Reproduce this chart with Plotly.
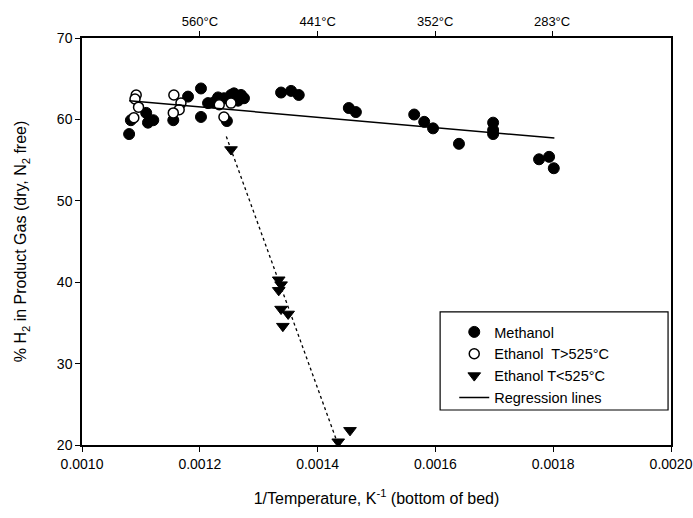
import plotly.graph_objects as go

# ---- data ----
meth_x = [0.001080, 0.001083, 0.001109, 0.001121, 0.001112, 0.001180, 0.001155,
          0.001202, 0.001202, 0.001214, 0.001224, 0.001231, 0.001241, 0.001253,
          0.001258, 0.001265, 0.001270, 0.001275, 0.001246,
          0.001338, 0.001355, 0.001368, 0.001453, 0.001465,
          0.001564, 0.001581, 0.001596, 0.001640, 0.001698, 0.001698, 0.001698,
          0.001776, 0.001793, 0.001801]
meth_y = [58.2, 59.9, 60.8, 59.9, 59.6, 62.8, 59.9,
          63.8, 60.3, 62.0, 62.1, 62.7, 62.6, 63.0,
          63.2, 62.3, 63.0, 62.6, 59.8,
          63.3, 63.5, 63.0, 61.4, 60.9,
          60.6, 59.7, 58.9, 57.0, 59.6, 58.7, 58.2,
          55.1, 55.4, 54.0]

eth_hi_x = [0.001092, 0.001090, 0.001096, 0.001088, 0.001156, 0.001168, 0.001165,
            0.001155, 0.001233, 0.001253, 0.001241]
eth_hi_y = [63.0, 62.5, 61.5, 60.2, 63.0, 62.0, 61.2,
            60.8, 61.8, 62.0, 60.3]

eth_lo_x = [0.001253, 0.001334, 0.001338, 0.001334, 0.001338, 0.001350, 0.001341,
            0.001435, 0.001455]
eth_lo_y = [56.3, 40.3, 39.7, 39.0, 36.7, 36.1, 34.6, 20.4, 21.8]

reg_meth_x = [0.001080, 0.001802]
reg_meth_y = [62.3, 57.7]
reg_eth_x = [0.001245, 0.001435]
reg_eth_y = [57.9, 20.0]

top_temps_c = [560, 441, 352, 283]
top_tick_vals = [1.0 / (t + 273.15) for t in top_temps_c]
top_tick_text = [f"{t}°C" for t in top_temps_c]

x_ticks = [0.0010, 0.0012, 0.0014, 0.0016, 0.0018, 0.0020]
y_ticks = [20, 30, 40, 50, 60, 70]

FONT = "Liberation Sans, Arial, Helvetica, sans-serif"

fig = go.Figure()
fig.add_trace(go.Scatter(
    x=meth_x, y=meth_y, mode="markers", name="Methanol",
    marker=dict(symbol="circle", size=11, color="black",
                line=dict(color="black", width=1))))
fig.add_trace(go.Scatter(
    x=eth_hi_x, y=eth_hi_y, mode="markers", name="Ethanol  T>525°C",
    marker=dict(symbol="circle", size=10, color="white",
                line=dict(color="black", width=1.5))))
fig.add_trace(go.Scatter(
    x=eth_lo_x, y=eth_lo_y, mode="markers", name="Ethanol T<525°C",
    marker=dict(symbol="triangle-down", size=11, color="black",
                line=dict(color="black", width=1))))
fig.add_trace(go.Scatter(
    x=reg_meth_x, y=reg_meth_y, mode="lines", name="Regression lines",
    line=dict(color="black", width=1.5)))
fig.add_trace(go.Scatter(
    x=reg_eth_x, y=reg_eth_y, mode="lines", showlegend=False,
    line=dict(color="black", width=1.3, dash="dot")))
# carrier for the top temperature axis
fig.add_trace(go.Scatter(
    x=[None], y=[None], xaxis="x2", mode="markers", showlegend=False,
    hoverinfo="skip"))

# legend frame (layout decoration, paper coordinates)
fig.add_shape(type="rect", xref="paper", yref="paper",
              x0=0.608, x1=0.995, y0=0.086, y1=0.327,
              line=dict(color="black", width=1.2), fillcolor="white",
              layer="below")

fig.update_layout(
    width=693, height=518,
    margin=dict(l=82, r=22, t=38, b=73),
    paper_bgcolor="white", plot_bgcolor="white",
    font=dict(family=FONT, size=14, color="black"),
    showlegend=True,
    legend=dict(
        x=0.632, y=0.317, xanchor="left", yanchor="top",
        borderwidth=0, bgcolor="rgba(0,0,0,0)",
        font=dict(family=FONT, size=14.5, color="black"),
        itemwidth=30, tracegroupgap=0,
    ),
    xaxis=dict(
        range=[0.0010, 0.0020], tickvals=x_ticks, tickformat=".4f",
        showgrid=False, zeroline=False, automargin=False,
        showline=True, linecolor="black", linewidth=1.5,
        ticks="outside", ticklen=5, tickcolor="black", tickwidth=1.2,
        ticklabeloverflow="allow",
        title=dict(text="1/Temperature, K<sup>-1</sup> (bottom of bed)",
                   font=dict(size=16), standoff=22),
        tickfont=dict(size=14),
    ),
    xaxis2=dict(
        overlaying="x", side="top", anchor="y", automargin=False,
        range=[0.0010, 0.0020], tickvals=top_tick_vals, ticktext=top_tick_text,
        showgrid=False, zeroline=False,
        showline=True, linecolor="black", linewidth=1.5,
        ticks="outside", ticklen=5, tickcolor="black", tickwidth=1.2,
        tickfont=dict(size=13),
    ),
    yaxis=dict(
        range=[20, 70], tickvals=y_ticks, automargin=False,
        showgrid=False, zeroline=False,
        showline=True, linecolor="black", linewidth=1.5, mirror=True,
        ticks="outside", ticklen=5, tickcolor="black", tickwidth=1.2,
        title=dict(text="% H<sub>2</sub> in Product Gas (dry, N<sub>2</sub> free)",
                   font=dict(size=16), standoff=26),
        tickfont=dict(size=14),
    ),
)

fig.write_html(
    "out.html",
    config={"displayModeBar": False},
    post_script="document.body.style.margin='0';document.body.style.overflow='hidden';",
)
